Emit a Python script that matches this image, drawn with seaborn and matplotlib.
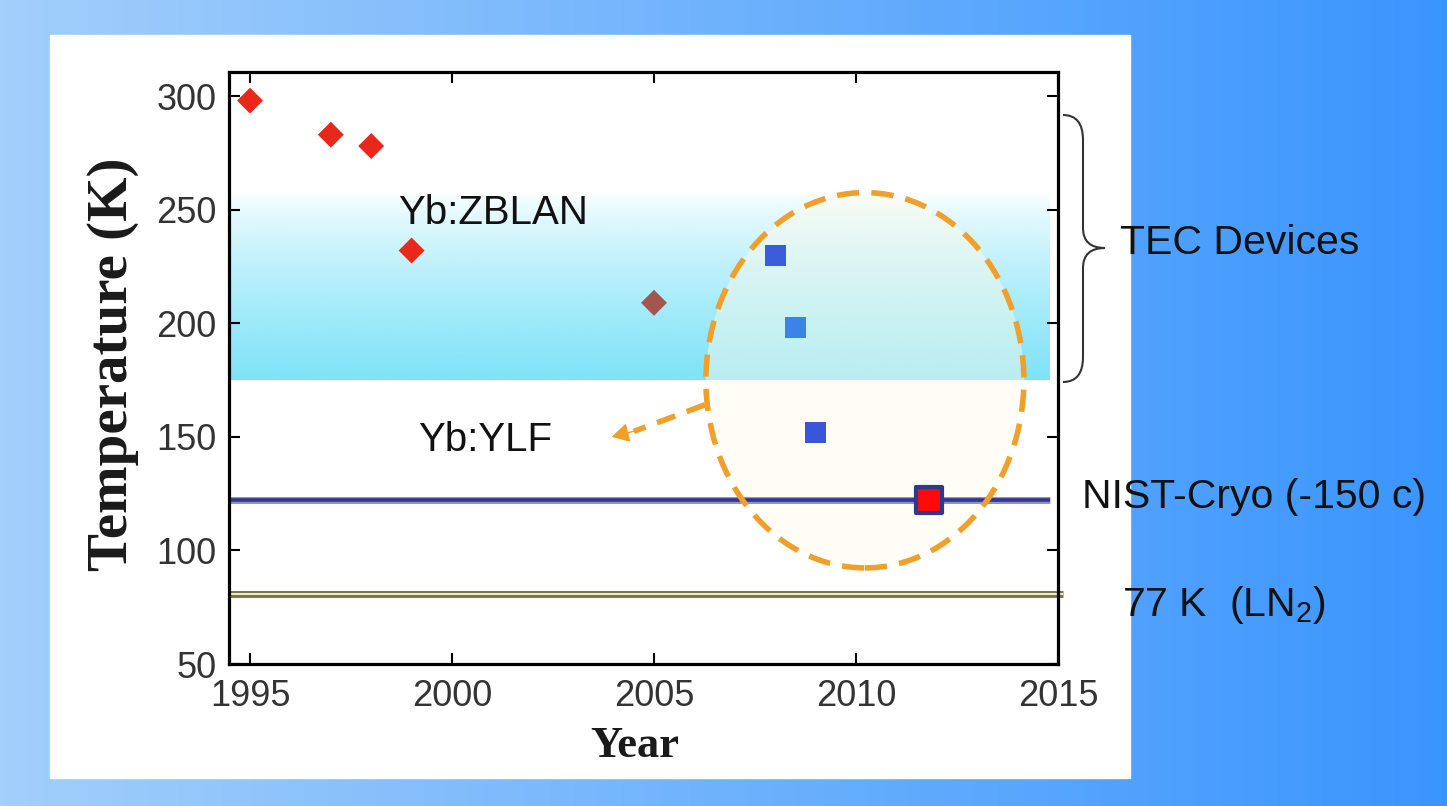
import numpy as np
import pandas as pd
import matplotlib
matplotlib.use("Agg")
import matplotlib.pyplot as plt
import seaborn as sns
from matplotlib.patches import Ellipse, Rectangle, PathPatch
from matplotlib.path import Path
from matplotlib.colors import to_rgb

# data
zblan_years = [1995, 1997, 1998, 1999]
zblan_temps = [298, 283, 278, 232]
zblan2005_years = [2005]
zblan2005_temps = [209]
ylf_years = [2008.0, 2008.5, 2009.0]
ylf_temps = [230, 198, 152]
best_years = [2011.8]
best_temps = [122]
nist_temp = 122
ln2_temp = 81
tec_band = (175, 258)
x_ticks = [1995, 2000, 2005, 2010, 2015]
y_ticks = [50, 100, 150, 200, 250, 300]

W, H = 1447, 806

sns.set_theme(style="ticks")
plt.rcParams['font.family'] = ['Liberation Sans', 'DejaVu Sans']
plt.rcParams['mathtext.fontset'] = 'custom'
plt.rcParams['mathtext.rm'] = 'Liberation Sans'

fig = plt.figure(figsize=(W / 100, H / 100), dpi=100)

# slide background gradient
bg = fig.add_axes([0, 0, 1, 1], zorder=-10)
c0, c1 = np.array(to_rgb('#a3cffb')), np.array(to_rgb('#3a95fe'))
t = np.linspace(0, 1, 300)[None, :, None]
bg.imshow(c0 + (c1 - c0) * t, aspect='auto', extent=[0, 1, 0, 1])
bg.axis('off')

fig.patches.append(Rectangle((50 / W, 1 - 778 / H), 1080 / W, 743 / H,
                             transform=fig.transFigure, color='white', zorder=-5))

ax = fig.add_axes([229 / W, 1 - 664 / H, 829 / W, 592 / H])
ax.set_facecolor('none')
ax.set_xlim(1994.48, 2015)
ax.set_ylim(50, 310.6)

# TEC band gradient: cyan at the bottom fading to white at the top
band = np.zeros((100, 2, 4))
band[..., :3] = to_rgb('#7ee3f8')
band[..., 3] = (1 - np.linspace(0, 1, 100)[:, None]) ** 0.75
ax.imshow(band, aspect='auto', origin='lower', zorder=0,
          extent=[1994.48, 2014.8, tec_band[0], tec_band[1]])

# YLF ellipse
ax.add_patch(Ellipse((2010.22, 174.9), 7.87, 165.2, facecolor='#fffbea', alpha=0.45,
                     edgecolor='none', zorder=1))
ax.add_patch(Ellipse((2010.22, 174.9), 7.87, 165.2, facecolor='none', edgecolor='#f0a02a',
                     lw=4, linestyle=(0, (4, 2.2)), zorder=3))

# reference lines
ax.hlines(nist_temp, 1994.48, 2014.8, color='#8f90c4', lw=5, zorder=2)
ax.hlines(nist_temp, 1994.48, 2014.8, color='#33368f', lw=2.6, zorder=2)
ax.hlines(ln2_temp, 1994.48, 2015.12, color='#76764a', lw=5, zorder=2, clip_on=False)
ax.hlines(ln2_temp, 1994.48, 2015.12, color='#f3efc8', lw=1.4, zorder=2, clip_on=False)

# points
sns.scatterplot(x=zblan_years, y=zblan_temps, marker='D', s=175, color='#e8281b',
                edgecolor='none', ax=ax, zorder=4)
sns.scatterplot(x=zblan2005_years, y=zblan2005_temps, marker='D', s=175, color='#a4564c',
                edgecolor='none', ax=ax, zorder=4)
sns.scatterplot(x=ylf_years, y=ylf_temps, marker='s', s=230, hue=ylf_years,
                palette=['#3b5ddb', '#3b84e6', '#3b55da'], edgecolor='none',
                legend=False, ax=ax, zorder=4)
sns.scatterplot(x=best_years, y=best_temps, marker='s', s=330, color='#ff0a0a',
                edgecolor='#2b3a8c', linewidth=3, ax=ax, zorder=5)

# arrow to Yb:YLF label
ax.plot([2006.26, 2004.5], [164.1, 152.4], color='#f0a02a', lw=4,
        linestyle=(0, (3.5, 2.2)), zorder=3, solid_capstyle='butt')
ax.annotate('', xy=(2003.95, 150.0), xytext=(2004.6, 152.9),
            arrowprops=dict(arrowstyle='-|>,head_length=0.9,head_width=0.5',
                            color='#f0a02a', lw=1, shrinkA=0, shrinkB=0), zorder=3)

ax.text(1998.66, 248.7, 'Yb:ZBLAN', fontsize=29, va='center', ha='left', color='#111111')
ax.text(1999.16, 148.7, 'Yb:YLF', fontsize=29, va='center', ha='left', color='#111111')

# axes styling
ax.set_xticks(x_ticks)
ax.set_yticks(y_ticks)
ax.tick_params(direction='in', length=8, width=1.5, top=True, right=True,
               labelsize=26, labelcolor='#333333', pad=9, color='black')
ax.tick_params(axis='x', pad=11)
for s in ax.spines.values():
    s.set_linewidth(2.3)
    s.set_color('black')
    s.set_visible(True)

ax.set_ylabel('Temperature (K)', fontsize=41, fontweight='bold',
              family=['Liberation Serif', 'DejaVu Serif'], color='#1a1a1a')
ax.set_xlabel('Year', fontsize=32, fontweight='bold',
              family=['Liberation Serif', 'DejaVu Serif'], color='#1a1a1a')
ax.yaxis.set_label_coords(-0.108, 0.507)
ax.xaxis.set_label_coords(0.49, -0.105)

# curly brace for TEC devices
def fx(px):
    return px / W

def fy(py):
    return 1 - py / H

verts = [(1063, 115), (1083, 115), (1083, 140),
         (1083, 228),
         (1083, 248), (1105, 248),
         (1083, 248), (1083, 268),
         (1083, 357),
         (1083, 382), (1063, 382)]
codes = [Path.MOVETO, Path.CURVE3, Path.CURVE3, Path.LINETO,
         Path.CURVE3, Path.CURVE3, Path.CURVE3, Path.CURVE3,
         Path.LINETO, Path.CURVE3, Path.CURVE3]
brace = Path([(fx(x), fy(y)) for x, y in verts], codes)
fig.patches.append(PathPatch(brace, transform=fig.transFigure, facecolor='none',
                             edgecolor='#333333', lw=1.5))

fig.text(fx(1120), fy(243), 'TEC Devices', fontsize=29.5, va='center', ha='left', color='#111111')
fig.text(fx(1082), fy(497), 'NIST-Cryo (-150 c)', fontsize=29.5, va='center', ha='left', color='#111111')
fig.text(fx(1122), fy(605), r'77 K  (LN$_\mathrm{2}$)', fontsize=29.5, va='center', ha='left',
         color='#111111')

fig.savefig('out.png', dpi=100)
